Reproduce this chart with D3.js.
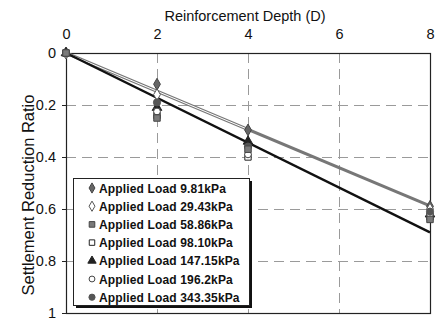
<!DOCTYPE html>
<html>
<head>
<meta charset="utf-8">
<script src="https://cdn.jsdelivr.net/npm/d3@7"></script>
<style>
  html, body { margin: 0; padding: 0; background: #fff; }
  svg { display: block; font-family: "Liberation Sans", Arial, sans-serif; }
</style>
</head>
<body>
<svg id="chart" width="448" height="320"></svg>
<script>
// Reinforcement depth (in multiples of D)
const depths = [0, 2, 4, 8];
const xTicks = [0, 2, 4, 6, 8];
const yTicks = [0, 0.2, 0.4, 0.6, 0.8, 1];

// Series names and settlement reduction ratio per depth
const seriesNames = [
  "Applied Load 9.81kPa",
  "Applied Load 29.43kPa",
  "Applied Load 58.86kPa",
  "Applied Load 98.10kPa",
  "Applied Load 147.15kPa",
  "Applied Load 196.2kPa",
  "Applied Load 343.35kPa"
];
const load981   = [0, 0.12, 0.296, 0.59];
const load2943  = [0, 0.16, 0.35, 0.60];
const load5886  = [0, 0.25, 0.37, 0.64];
const load9810  = [0, 0.24, 0.40, 0.63];
const load14715 = [0, 0.21, 0.34, 0.62];
const load1962  = [0, 0.225, 0.39, 0.62];
const load34335 = [0, 0.19, 0.36, 0.61];
const seriesValues = [load981, load2943, load5886, load9810, load14715, load1962, load34335];

// Linear trend lines: [depth, ratio] end points
const trendLight = [[0, 0], [8, 0.588]];
const trendLightInner = [[0, 0], [4, 0.294]];
const trendDark = [[0, 0], [8, 0.69]];

const svg = d3.select("#chart");
const margin = { left: 66, right: 18, top: 53, bottom: 7 };
const W = 448, H = 320;
const x = d3.scaleLinear().domain([0, 8]).range([margin.left, W - margin.right]);
const y = d3.scaleLinear().domain([0, 1]).range([margin.top, H - margin.bottom]);

// Dashed grid
const grid = svg.append("g").attr("stroke", "#9a9a9a").attr("stroke-width", 1)
  .attr("stroke-dasharray", "10,6");
grid.selectAll("line.h").data(yTicks.filter(v => v > 0 && v < 1)).join("line")
  .attr("x1", x(0)).attr("x2", x(8))
  .attr("y1", d => Math.round(y(d)) + 0.5).attr("y2", d => Math.round(y(d)) + 0.5);
grid.selectAll("line.v").data(xTicks.filter(v => v > 0 && v < 8)).join("line")
  .attr("y1", y(0)).attr("y2", y(1))
  .attr("x1", d => Math.round(x(d)) + 0.5).attr("x2", d => Math.round(x(d)) + 0.5);

// Plot frame
svg.append("rect")
  .attr("x", x(0) + 0.5).attr("y", y(0) + 0.5)
  .attr("width", x(8) - x(0)).attr("height", y(1) - y(0))
  .attr("fill", "none").attr("stroke", "#222").attr("stroke-width", 1.2);

// Axes
const xAxis = d3.axisTop(x).tickValues(xTicks).tickFormat(d3.format("d")).tickSize(0).tickPadding(14);
const gx = svg.append("g").attr("transform", `translate(0,${y(0)})`).call(xAxis);
gx.select(".domain").remove();
gx.selectAll("text").attr("font-size", 14.5).attr("fill", "#111");

const yAxis = d3.axisLeft(y).tickValues(yTicks).tickFormat(d => d === 0 || d === 1 ? d3.format("d")(d) : d3.format(".1f")(d))
  .tickSize(4).tickPadding(6);
const gy = svg.append("g").attr("transform", `translate(${x(0)},0)`).call(yAxis);
gy.select(".domain").remove();
gy.selectAll("line").attr("stroke", "#222");
gy.selectAll("text").attr("font-size", 14.5).attr("fill", "#111");

// Axis titles
svg.append("text").attr("x", 245).attr("y", 21).attr("text-anchor", "middle")
  .attr("font-size", 14.5).attr("fill", "#111").text("Reinforcement Depth (D)");
svg.append("text").attr("transform", `translate(34,195) rotate(-90)`)
  .attr("text-anchor", "middle").attr("font-size", 16.5).attr("fill", "#111")
  .text("Settlement Reduction Ratio");

// Trend lines
const line = d3.line().x(d => x(d[0])).y(d => y(d[1]));
svg.append("path").attr("d", line(trendLight)).attr("fill", "none")
  .attr("stroke", "#777").attr("stroke-width", 3);
svg.append("path").attr("d", line(trendLightInner)).attr("fill", "none")
  .attr("stroke", "#fff").attr("stroke-width", 1);
svg.append("path").attr("d", line(trendDark)).attr("fill", "none")
  .attr("stroke", "#111").attr("stroke-width", 2.4);

// Marker styles per series
const markerStyles = [
  { sym: d3.symbolDiamond, size: 40, fill: "#666", stroke: "#444" },
  { sym: d3.symbolDiamond, size: 40, fill: "#fff", stroke: "#555" },
  { sym: d3.symbolSquare, size: 42, fill: "#7a7a7a", stroke: "#444" },
  { sym: d3.symbolSquare, size: 40, fill: "#fff", stroke: "#222" },
  { sym: d3.symbolTriangle, size: 40, fill: "#222", stroke: "#222" },
  { sym: d3.symbolCircle, size: 36, fill: "#fff", stroke: "#444" },
  { sym: d3.symbolCircle, size: 40, fill: "#555", stroke: "#555" }
];

// Data markers; the filled square series goes on top
const drawOrder = [0, 1, 3, 4, 5, 6, 2];
const marks = svg.append("g");
drawOrder.forEach(i => {
  const st = markerStyles[i];
  marks.append("g").selectAll("path").data(seriesValues[i].map((v, j) => [depths[j], v])).join("path")
    .attr("transform", d => `translate(${x(d[0])},${y(d[1])})`)
    .attr("d", d3.symbol().type(st.sym).size(st.size))
    .attr("fill", st.fill).attr("stroke", st.stroke).attr("stroke-width", 1);
});

// Legend
const lg = { x: 73, y: 178, w: 176, h: 127, row: 18.2 };
svg.append("rect").attr("x", lg.x + 3).attr("y", lg.y + 3).attr("width", lg.w).attr("height", lg.h)
  .attr("fill", "#111");
svg.append("rect").attr("x", lg.x + 0.5).attr("y", lg.y + 0.5).attr("width", lg.w).attr("height", lg.h)
  .attr("fill", "#fff").attr("stroke", "#222").attr("stroke-width", 1);
const items = svg.append("g").selectAll("g").data(seriesNames).join("g")
  .attr("transform", (d, i) => `translate(${lg.x},${lg.y + 10 + i * lg.row})`);
items.append("path")
  .attr("transform", "translate(19,0)")
  .attr("d", (d, i) => d3.symbol().type(markerStyles[i].sym).size(markerStyles[i].size * 0.75)())
  .attr("fill", (d, i) => markerStyles[i].fill)
  .attr("stroke", (d, i) => markerStyles[i].stroke);
items.append("text").attr("x", 26).attr("y", 4.5)
  .attr("font-size", 12).attr("font-weight", "bold").attr("letter-spacing", 0.15)
  .attr("fill", "#111").text(d => d);
</script>
</body>
</html>
